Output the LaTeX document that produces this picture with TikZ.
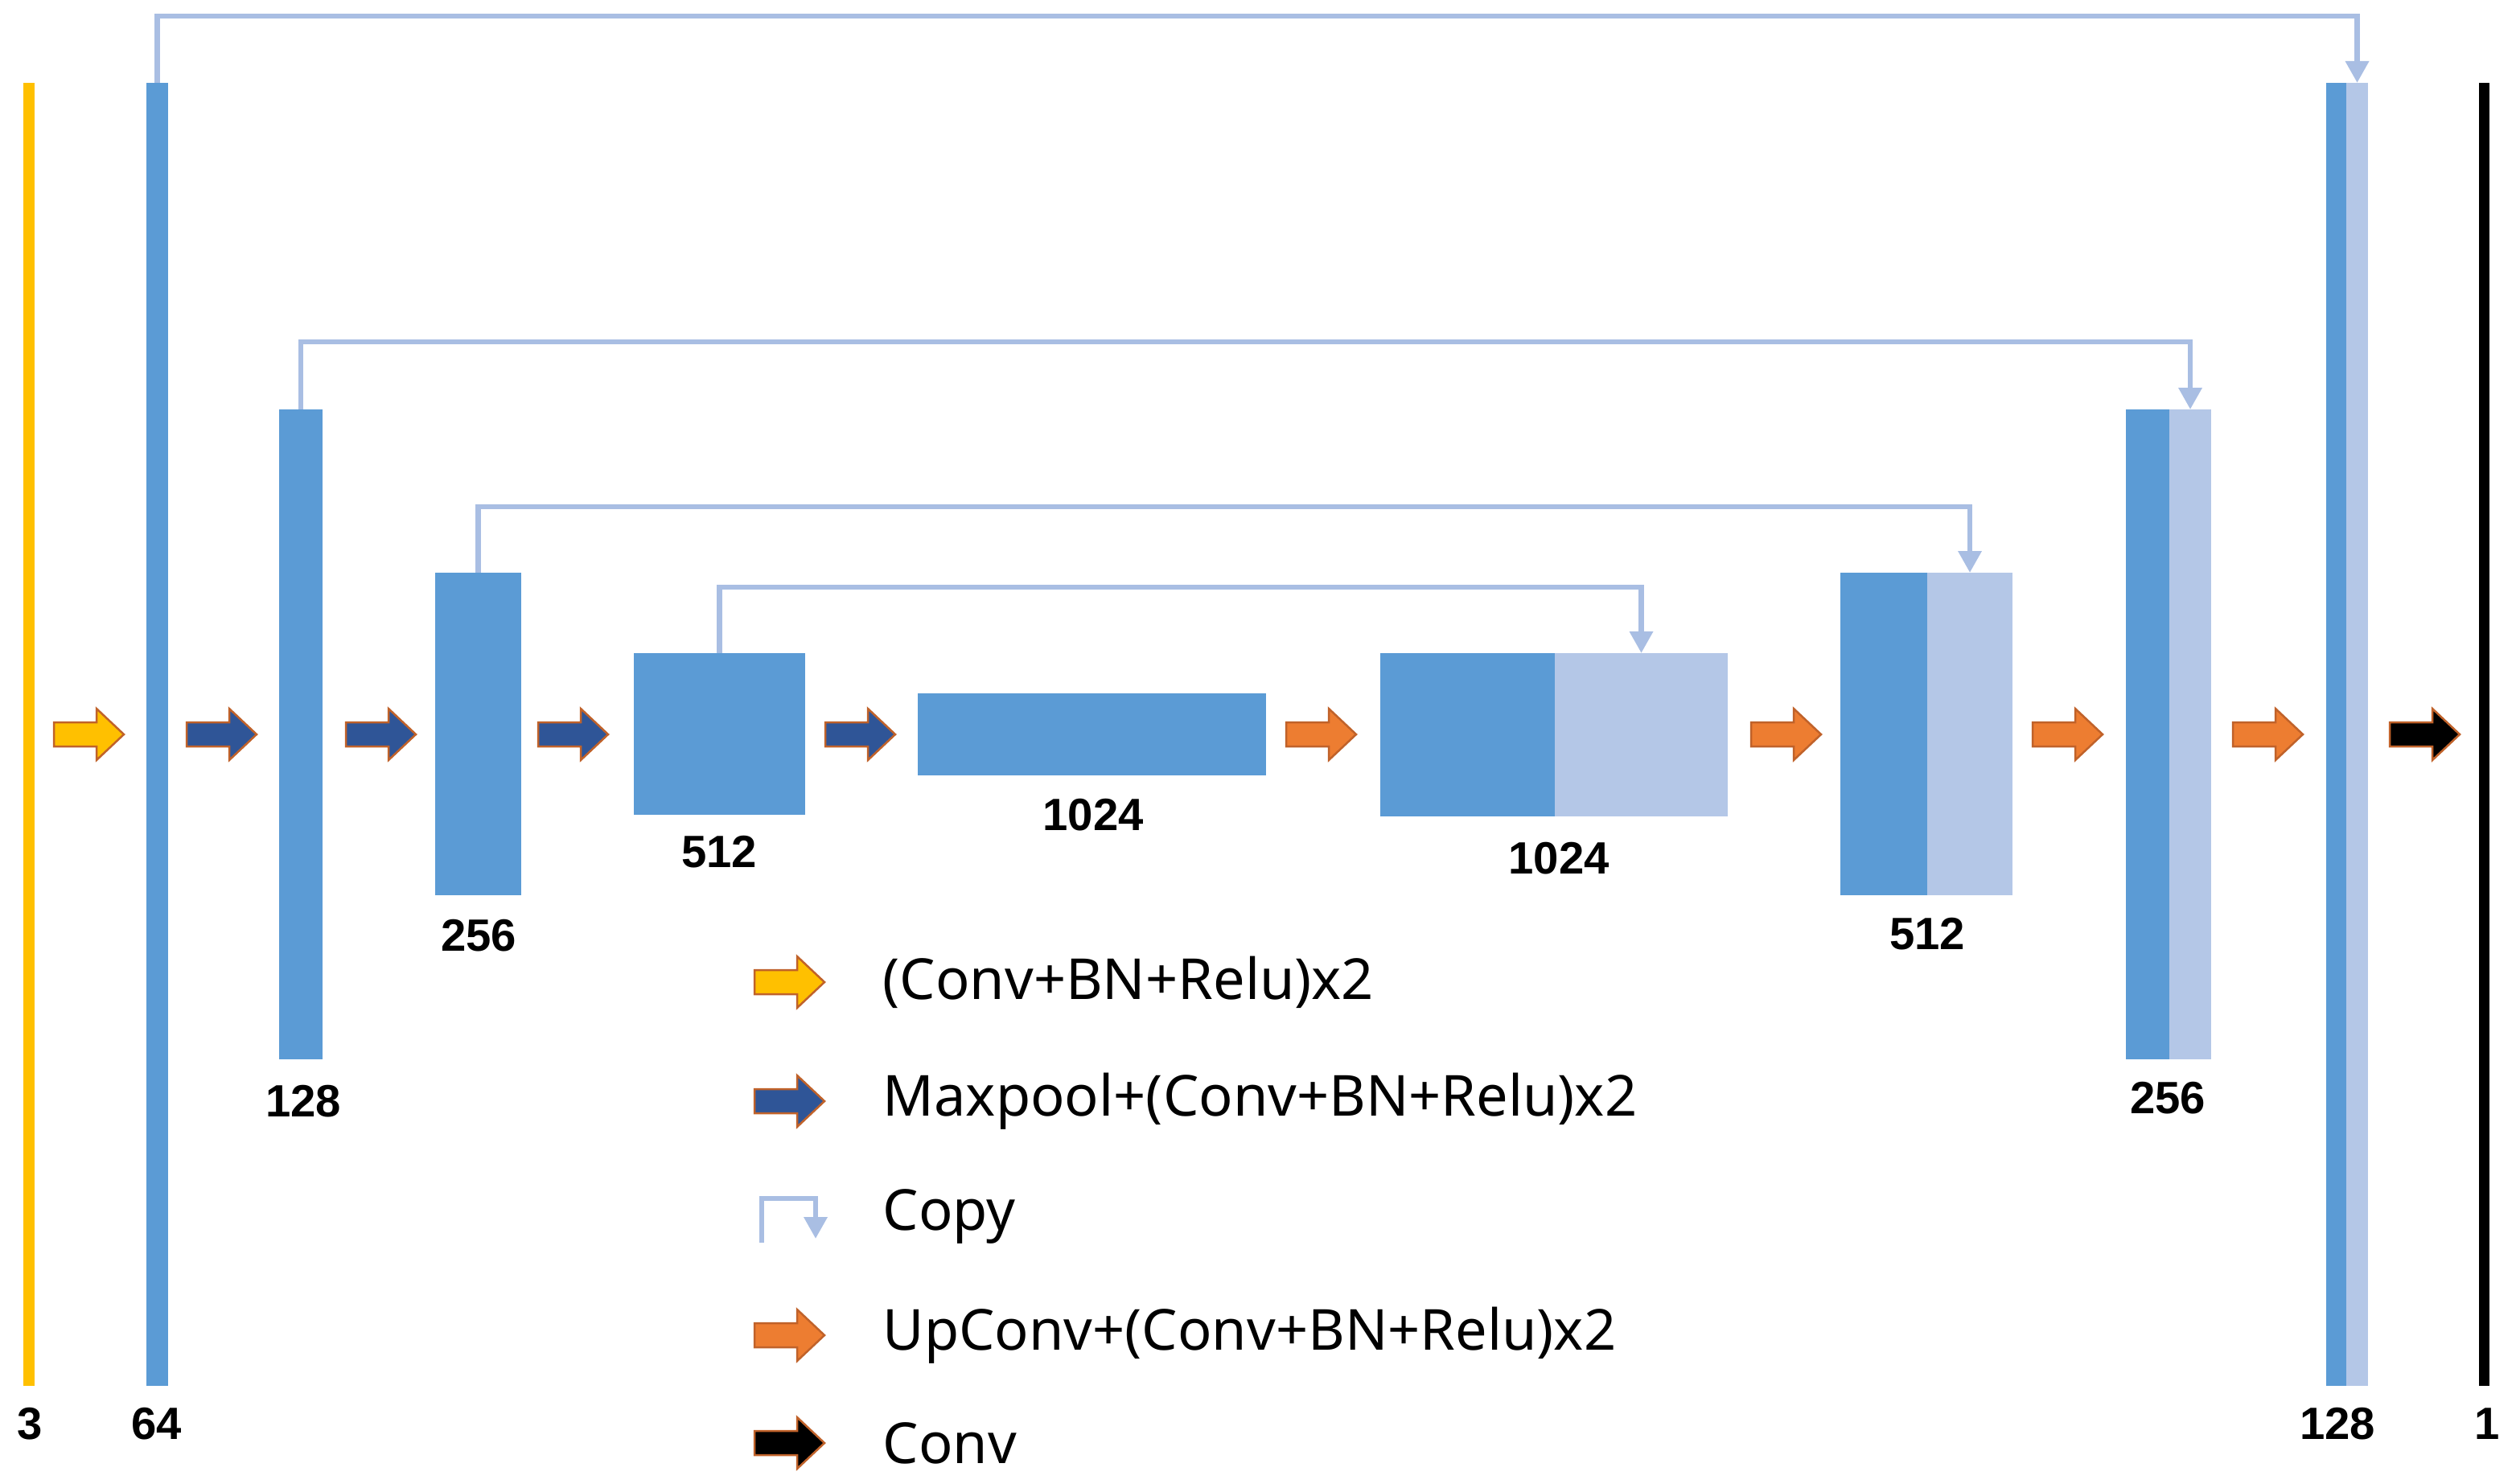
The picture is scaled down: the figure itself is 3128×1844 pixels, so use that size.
\documentclass[tikz,border=0pt]{standalone}
\usepackage{fontspec}
\setmainfont{Noto Sans}
\newfontfamily\numfont{Liberation Sans Bold}
\usetikzlibrary{fit,arrows.meta}
\definecolor{cblue}{HTML}{5B9BD5}
\definecolor{clight}{HTML}{B4C7E7}
\definecolor{ccopy}{HTML}{A9BEE3}
\definecolor{cyellow}{HTML}{FFC000}
\definecolor{cnavy}{HTML}{2F5597}
\definecolor{corange}{HTML}{ED7D31}
\definecolor{cedge}{HTML}{C0622A}
\tikzset{
  blk/.style={inner sep=0pt, outer sep=0pt, draw=none},
  dark/.style={blk, fill=cblue},
  light/.style={blk, fill=clight},
  num/.style={font=\numfont\fontsize{16}{19}\selectfont, inner sep=0pt},
  leg/.style={font=\fontsize{20}{24}\selectfont, anchor=west, inner sep=0pt},
  copyline/.style={draw=ccopy, line width=0.065cm, -{Triangle[length=0.27cm,width=0.28cm]}},
  fatarrow/.style={draw=cedge, line width=0.025cm, line join=miter},
}
\newcommand{\fatarr}[3]{%
  \draw[fatarrow, fill=#3] ({#1-43},{#2-15}) -- ({#1+10},{#2-15}) -- ({#1+10},{#2-32})
    -- ({#1+44},{#2}) -- ({#1+10},{#2+32}) -- ({#1+10},{#2+15}) -- ({#1-43},{#2+15}) -- cycle;}
\begin{document}
\begin{tikzpicture}[x=0.01cm,y=-0.01cm]
\useasboundingbox (0,0) rectangle (3128,1844);
% encoder blocks
\node[blk, fill=cyellow, fit={(29,103)(43,1723)}] (in3) {};
\node[dark, fit={(182,103)(209,1723)}] (e64) {};
\node[dark, fit={(347,509)(401,1317)}] (e128) {};
\node[dark, fit={(541,712)(648,1113)}] (e256) {};
\node[dark, fit={(788,812)(1001,1013)}] (e512) {};
\node[dark, fit={(1141,862)(1574,964)}] (b1024) {};
% decoder blocks
\node[dark, fit={(1716,812)(1933,1015)}] (d1024d) {};
\node[light, fit={(1933,812)(2148,1015)}] (d1024l) {};
\node[dark, fit={(2288,712)(2396,1113)}] (d512d) {};
\node[light, fit={(2396,712)(2502,1113)}] (d512l) {};
\node[dark, fit={(2643,509)(2697,1317)}] (d256d) {};
\node[light, fit={(2697,509)(2749,1317)}] (d256l) {};
\node[dark, fit={(2892,103)(2917,1723)}] (d128d) {};
\node[light, fit={(2917,103)(2944,1723)}] (d128l) {};
\node[blk, fill=black, fit={(3082,103)(3095,1723)}] (out1) {};
% labels
\node[num] at (37,1770) {3};
\node[num] at (195,1770) {64};
\node[num] at (377,1369) {128};
\node[num] at (595,1163) {256};
\node[num] at (894,1059) {512};
\node[num] at (1359,1013) {1024};
\node[num] at (1938,1067) {1024};
\node[num] at (2396,1161) {512};
\node[num] at (2695,1365) {256};
\node[num] at (2906,1770) {128};
\node[num] at (3092,1770) {1};
% copy connections
\coordinate (c1) at (0,20);
\coordinate (c2) at (0,425);
\coordinate (c3) at (0,630);
\coordinate (c4) at (0,730);
\draw[copyline] (e64.north) -- (e64.north |- c1) -| (d128l.north);
\draw[copyline] (e128.north) -- (e128.north |- c2) -| (d256l.north);
\draw[copyline] (e256.north) -- (e256.north |- c3) -| (d512l.north);
\draw[copyline] (e512.north) -- (e512.north |- c4) -| (d1024l.north);
% operation arrows
\fatarr{110}{913}{cyellow}
\fatarr{275}{913}{cnavy}
\fatarr{473}{913}{cnavy}
\fatarr{712}{913}{cnavy}
\fatarr{1069}{913}{cnavy}
\fatarr{1642}{913}{corange}
\fatarr{2220}{913}{corange}
\fatarr{2570}{913}{corange}
\fatarr{2819}{913}{corange}
\fatarr{3014}{913}{black}
% legend
\fatarr{981}{1221}{cyellow}
\fatarr{981}{1369}{cnavy}
\coordinate (lc1) at (947,1545);
\coordinate (lc2) at (1014,1540);
\draw[copyline] (lc1) -- (947,1490) -| (lc2);
\fatarr{981}{1660}{corange}
\fatarr{981}{1794}{black}
\node[leg] (l1) at (1097,1221) {(Conv+BN+Relu)x2};
\node[leg] (l2) at (1097,1369) {Maxpool+(Conv+BN+Relu)x2};
\node[leg] (l3) at (1097,1512) {Copy};
\node[leg] (l4) at (1097,1660) {UpConv+(Conv+BN+Relu)x2};
\node[leg] (l5) at (1097,1794) {Conv};
\end{tikzpicture}
\end{document}
